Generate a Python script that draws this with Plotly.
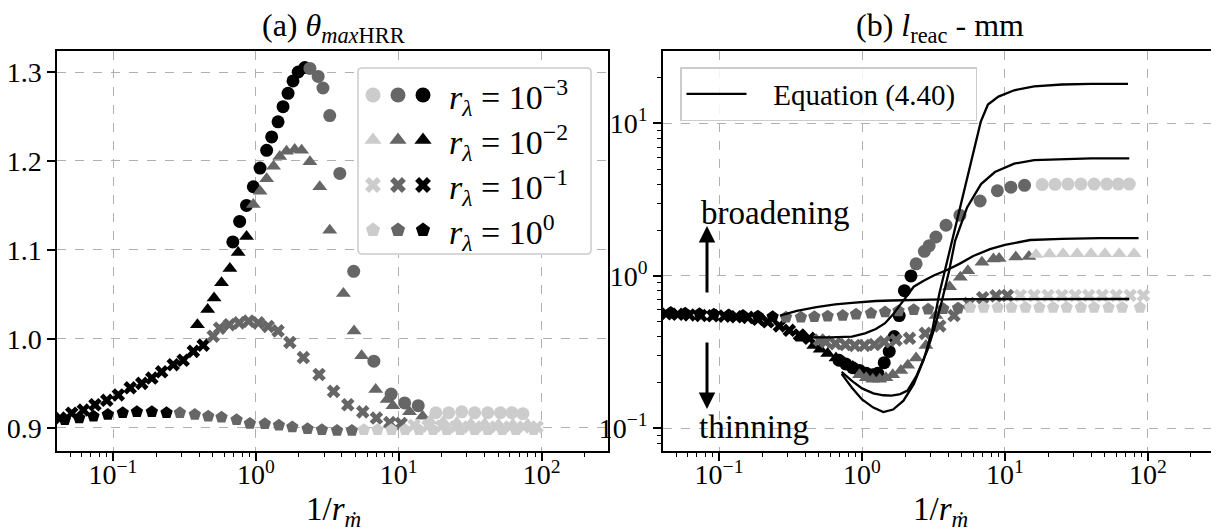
import plotly.graph_objects as go

LIGHT = "#cccccc"
DARK = "#666666"
BLACK = "#000000"
FONT = "Liberation Serif, DejaVu Serif, serif"

# ---------------- data ----------------
# x = 1/r_mdot ; th = theta_maxHRR (panel a) ; lr = l_reac in mm (panel b)

# r_lambda = 1e-3 (circles)
circ_black_x = [0.69, 0.77, 0.86, 0.96, 1.07, 1.19, 1.29, 1.43, 1.55, 1.68, 1.82, 1.98, 2.2]
circ_black_th = [1.109, 1.132, 1.150, 1.171, 1.192, 1.212, 1.227, 1.244, 1.261, 1.276, 1.290, 1.300, 1.305]
circ_black_lr = [0.28, 0.265, 0.25, 0.24, 0.23, 0.225, 0.23, 0.27, 0.32, 0.40, 0.55, 0.80, 1.0]
circ_dark_x = [2.39, 2.73, 2.95, 3.29, 3.87, 4.84, 6.7, 8.85, 11.0, 13.7]
circ_dark_th = [1.304, 1.295, 1.282, 1.251, 1.186, 1.076, 0.975, 0.938, 0.928, 0.925]
circ_dark_lr = [1.2, 1.45, 1.58, 1.8, 2.15, 2.5, 3.1, 3.62, 3.82, 3.93]
circ_light_x = [18.2, 22.4, 27.6, 34.0, 42.0, 51.5, 62.0, 74.0]
circ_light_th = [0.917, 0.917, 0.918, 0.917, 0.917, 0.917, 0.917, 0.916]
circ_light_lr = [3.97, 3.99, 4.0, 4.0, 4.0, 4.0, 4.0, 4.0]

# r_lambda = 1e-2 (triangles)
tri_black_x = [0.39, 0.46, 0.51, 0.575, 0.658, 0.752, 0.861]
tri_black_th = [1.016, 1.033, 1.046, 1.063, 1.079, 1.097, 1.115]
tri_black_lr = [0.39, 0.35, 0.33, 0.31, 0.29, 0.27, 0.255]
tri_dark_x = [0.96, 1.07, 1.19, 1.33, 1.47, 1.64, 1.87, 2.09, 2.39, 2.80, 3.29, 4.1, 4.87, 5.5, 6.9, 8.3, 9.1, 11.9, 14.7]
tri_dark_th = [1.151, 1.166, 1.180, 1.194, 1.205, 1.211, 1.213, 1.212, 1.199, 1.171, 1.122, 1.051, 1.009,
               0.981, 0.943, 0.932, 0.925, 0.918, 0.913]
tri_dark_lr = [0.225, 0.215, 0.21, 0.21, 0.215, 0.225, 0.24, 0.26, 0.29, 0.35, 0.55, 0.85, 0.98,
               1.08, 1.23, 1.29, 1.30, 1.33, 1.34]
tri_light_x = [16.5, 20.5, 25.5, 32.0, 40.0, 50.0, 63.0, 80.0]
tri_light_th = [0.908, 0.907, 0.906, 0.905, 0.905, 0.904, 0.904, 0.904]
tri_light_lr = [1.38, 1.39, 1.40, 1.40, 1.40, 1.40, 1.40, 1.40]

# r_lambda = 1e-1 (crosses)
crs_black_x = [0.0426, 0.0514, 0.062, 0.0748, 0.0904, 0.109, 0.132, 0.159, 0.187, 0.219, 0.264, 0.31, 0.365, 0.428]
crs_black_th = [0.911, 0.9165, 0.920, 0.926, 0.931, 0.937, 0.945, 0.950, 0.956, 0.963, 0.971, 0.976, 0.986, 0.993]
crs_black_lr = [0.565, 0.56, 0.555, 0.55, 0.548, 0.545, 0.54, 0.535, 0.52, 0.50, 0.47, 0.44, 0.41, 0.39]
crs_dark_x = [0.503, 0.557, 0.652, 0.764, 0.89, 1.04, 1.22, 1.43, 1.73, 2.15, 2.77, 3.5, 4.4, 5.6, 6.98, 8.65, 10.4]
crs_dark_th = [1.003, 1.012, 1.016, 1.018, 1.020, 1.018, 1.014, 1.009, 0.996, 0.979, 0.960, 0.941, 0.926,
               0.918, 0.911, 0.906, 0.905]
crs_dark_lr = [0.38, 0.37, 0.36, 0.355, 0.35, 0.35, 0.355, 0.37, 0.38, 0.39, 0.42, 0.47, 0.55,
               0.66, 0.72, 0.74, 0.745]
crs_light_x = [12.8, 16.0, 20.0, 25.0, 31.0, 38.5, 48.0, 60.0, 75.0, 93.0]
crs_light_th = [0.903, 0.902, 0.902, 0.901, 0.901, 0.901, 0.901, 0.901, 0.901, 0.901]
crs_light_lr = [0.745, 0.745, 0.745, 0.745, 0.745, 0.745, 0.745, 0.745, 0.745, 0.745]

# r_lambda = 1 (pentagons)
pen_black_x = [0.046, 0.058, 0.073, 0.092, 0.117, 0.147, 0.187, 0.237]
pen_black_th = [0.909, 0.911, 0.913, 0.915, 0.917, 0.918, 0.918, 0.917]
pen_black_lr = [0.575, 0.57, 0.565, 0.56, 0.555, 0.55, 0.545, 0.54]
pen_dark_x = [0.294, 0.374, 0.464, 0.575, 0.733, 0.908, 1.156, 1.45, 1.8, 2.3, 2.9, 3.7, 4.7]
pen_dark_th = [0.917, 0.915, 0.913, 0.912, 0.909, 0.905, 0.9045, 0.903, 0.901, 0.899, 0.898, 0.897, 0.897]
pen_dark_lr = [0.535, 0.535, 0.54, 0.545, 0.55, 0.56, 0.57, 0.58, 0.59, 0.60, 0.605, 0.61, 0.615]
pen_light_x = [5.7, 7.1, 8.9, 11.1, 13.9, 17.4, 21.7, 27.0, 34.0, 42.0, 53.0, 66.0, 88.0]
pen_light_th = [0.898, 0.898, 0.898, 0.898, 0.898, 0.898, 0.898, 0.898, 0.898, 0.898, 0.898, 0.898, 0.898]
pen_light_lr = [0.62, 0.62, 0.62, 0.62, 0.62, 0.62, 0.62, 0.62, 0.62, 0.62, 0.62, 0.62, 0.62]

# Equation (4.40) curves, panel b
eq1_x = [0.72, 0.85, 1.0, 1.2, 1.41, 1.65, 1.95, 2.3, 2.69, 3.1, 3.47, 3.94, 4.5, 5.42, 6.1, 6.78, 7.6, 9.0,
         11.6, 16.0, 25.0, 40.0, 72.5]
eq1_lr = [0.228, 0.185, 0.155, 0.137, 0.128, 0.133, 0.152, 0.195, 0.279, 0.44, 0.762, 1.26, 2.1, 4.43, 7.0,
          10.3, 13.3, 15.0, 16.5, 17.5, 18.0, 18.2, 18.2]
eq2_x = [0.72, 0.85, 1.0, 1.2, 1.41, 1.61, 1.85, 2.08, 2.4, 2.86, 3.2, 3.58, 4.07, 4.48, 5.42, 6.8, 8.5,
         11.6, 16.0, 25.0, 40.0, 74.0]
eq2_lr = [0.235, 0.205, 0.183, 0.17, 0.165, 0.164, 0.168, 0.177, 0.22, 0.324, 0.45, 0.658, 1.08, 1.7, 2.8,
          4.0, 4.8, 5.45, 5.75, 5.85, 5.9, 5.9]
eq3_x = [0.45, 0.6, 0.85, 1.05, 1.25, 1.45, 1.65, 1.84, 2.08, 2.3, 2.7, 3.2, 3.9, 4.8, 6.0, 7.85, 10.0,
         15.0, 25.0, 46.0, 86.0]
eq3_lr = [0.395, 0.395, 0.40, 0.42, 0.449, 0.49, 0.56, 0.64, 0.75, 0.85, 0.93, 1.01, 1.09, 1.2, 1.35, 1.5,
          1.6, 1.72, 1.75, 1.77, 1.77]
eq4_x = [0.267, 0.35, 0.48, 0.65, 0.85, 1.02, 1.25, 1.6, 2.0, 3.0, 5.0, 8.5, 15.0, 30.0, 74.0]
eq4_lr = [0.55, 0.59, 0.625, 0.65, 0.665, 0.675, 0.685, 0.69, 0.695, 0.70, 0.705, 0.706, 0.706, 0.706, 0.706]

legend_labels = ["10<sup>−3</sup>", "10<sup>−2</sup>", "10<sup>−1</sup>", "10<sup>0</sup>"]

# ---------------- layout helpers ----------------
# the page body keeps its default 8px margin, so the figure is made 8px smaller and
# pixel positions measured on the 1219x532 target are shifted by that amount
OFF = 8
W, H = 1219 - OFF, 532 - OFF


def fx(p):
    return (p - OFF) / W


def fy(p):
    return 1 - (p - OFF) / H


# ---------------- figure ----------------
series = [
    ("circle", 13, {"black": (circ_black_x, circ_black_th, circ_black_lr),
                    "dark": (circ_dark_x, circ_dark_th, circ_dark_lr),
                    "light": (circ_light_x, circ_light_th, circ_light_lr)}),
    ("triangle-up", 13, {"black": (tri_black_x, tri_black_th, tri_black_lr),
                         "dark": (tri_dark_x, tri_dark_th, tri_dark_lr),
                         "light": (tri_light_x, tri_light_th, tri_light_lr)}),
    ("x", 12, {"black": (crs_black_x, crs_black_th, crs_black_lr),
               "dark": (crs_dark_x, crs_dark_th, crs_dark_lr),
               "light": (crs_light_x, crs_light_th, crs_light_lr)}),
    ("pentagon", 13, {"black": (pen_black_x, pen_black_th, pen_black_lr),
                      "dark": (pen_dark_x, pen_dark_th, pen_dark_lr),
                      "light": (pen_light_x, pen_light_th, pen_light_lr)}),
]
shades = [("black", BLACK), ("dark", DARK), ("light", LIGHT)]

fig = go.Figure()

for shade, color in shades:
    for sym, size, data in series:
        x, th, lr = data[shade]
        mk = dict(symbol=sym, size=size, color=color, line=dict(width=0))
        fig.add_trace(go.Scatter(x=x, y=th, mode="markers", marker=mk, xaxis="x", yaxis="y",
                                 showlegend=False, hoverinfo="skip"))
        fig.add_trace(go.Scatter(x=x, y=lr, mode="markers", marker=mk, xaxis="x2", yaxis="y2",
                                 showlegend=False, hoverinfo="skip"))

for i, (x, y) in enumerate([(eq1_x, eq1_lr), (eq2_x, eq2_lr), (eq3_x, eq3_lr), (eq4_x, eq4_lr)]):
    fig.add_trace(go.Scatter(x=x, y=y, mode="lines", line=dict(color="black", width=2.3),
                             name="\u00a0\u00a0\u00a0Equation (4.40)\u00a0\u00a0", showlegend=(i == 0),
                             xaxis="x2", yaxis="y2", hoverinfo="skip"))

# custom legend of panel (a): three shades per r_lambda, drawn on a hidden overlay axis
col_px = [16, 41, 66]
row_px = [28, 73, 118, 163]
for j, (sym, size, _) in enumerate(series):
    fig.add_trace(go.Scatter(x=col_px, y=[row_px[j]] * 3, mode="markers", xaxis="x3", yaxis="y3",
                             marker=dict(symbol=sym, size=size + 2, color=[LIGHT, DARK, BLACK], line=dict(width=0)),
                             showlegend=False, hoverinfo="skip"))
    fig.add_annotation(x=90, y=row_px[j] + 2, xref="x3", yref="y3", xanchor="left", yanchor="middle",
                       text="<i>r</i><sub><i>λ</i></sub> = " + legend_labels[j], showarrow=False,
                       font=dict(size=34))

fig.add_shape(type="path", xref="x3", yref="y3", layer="below",
              path="M5,1 H230 Q234,1 234,5 V183 Q234,187 230,187 H5 Q1,187 1,183 V5 Q1,1 5,1 Z",
              fillcolor="rgba(255,255,255,0.85)", line=dict(color="#cccccc", width=1.5))

common = dict(showline=True, linecolor="black", linewidth=1.5, mirror=True, ticks="outside", ticklen=8,
              tickwidth=1.5, tickcolor="black", showgrid=True, gridcolor="#b0b0b0", griddash="dash",
              gridwidth=1, zeroline=False, automargin=False,
              tickfont=dict(size=28, family=FONT, color="black"))
minor_log = [m * 10.0 ** e for e in range(-2, 3) for m in range(2, 10)]
minor_cfg = dict(ticks="outside", ticklen=4, tickwidth=1, tickcolor="black", tickmode="array",
                 tickvals=minor_log, showgrid=False)
xticks = dict(tickmode="array", tickvals=[0.1, 1, 10, 100],
              ticktext=["10<sup>−1</sup>", "10<sup>0</sup>", "10<sup>1</sup>", "10<sup>2</sup>"],
              ticklabelstandoff=-10)

fig.update_layout(
    width=W, height=H, margin=dict(l=0, r=0, t=0, b=0, autoexpand=False),
    paper_bgcolor="white", plot_bgcolor="white",
    font=dict(family=FONT, size=28, color="black"),
    xaxis=dict(common, type="log", domain=[fx(57), fx(608)], range=[-1.392, 2.465], anchor="y",
               minor=minor_cfg, **xticks),
    yaxis=dict(common, domain=[fy(451), fy(51)], range=[0.874, 1.3236], anchor="x",
               tickmode="array", tickvals=[0.9, 1.0, 1.1, 1.2, 1.3],
               ticktext=["0.9", "1.0", "1.1", "1.2", "1.3"]),
    xaxis2=dict(common, type="log", domain=[fx(663), fx(1217)], range=[-1.392, 2.483], anchor="y2",
                minor=minor_cfg, **xticks),
    yaxis2=dict(common, type="log", domain=[fy(451), fy(51)], range=[-1.148, 1.475], anchor="x2",
                tickmode="array", tickvals=[0.1, 1, 10],
                ticktext=["10<sup>−1</sup>", "10<sup>0</sup>", "10<sup>1</sup>"], minor=minor_cfg),
    xaxis3=dict(domain=[fx(357), fx(592)], range=[0, 235], visible=False, anchor="y3",
                fixedrange=True, automargin=False),
    yaxis3=dict(domain=[fy(255), fy(67)], range=[188, 0], visible=False, anchor="x3",
                fixedrange=True, automargin=False),
    showlegend=True,
    legend=dict(x=fx(680), y=fy(67), xanchor="left", yanchor="top", bgcolor="rgba(255,255,255,0.85)",
                bordercolor="#cccccc", borderwidth=1.5, font=dict(size=29, family=FONT), itemwidth=60),
)

# panel titles, axis titles and text
ann_font = dict(family=FONT, size=33, color="black")
center = dict(xref="paper", yref="paper", showarrow=False, xanchor="center", yanchor="middle", font=ann_font)
fig.add_annotation(center, x=fx(333), y=fy(28), text="(a) <i>θ</i><sub><i>max</i>HRR</sub>",
                   font=dict(size=32))
fig.add_annotation(center, x=fx(940), y=fy(28), text="(b) <i>l</i><sub>reac</sub> - mm", font=dict(size=32))
for cx in [fx(333), fx(940)]:
    fig.add_annotation(center, x=cx, y=fy(511), text="1/<i>r</i><sub><i>ṁ</i></sub>")
fig.add_annotation(center, x=fx(699), y=fy(213), xanchor="left", text="broadening")
fig.add_annotation(center, x=fx(697), y=fy(427), xanchor="left", text="thinning")
arrow = dict(xref="paper", yref="paper", text="", showarrow=True, arrowhead=2, arrowsize=1.1,
             arrowwidth=3, arrowcolor="black", ax=0)
fig.add_annotation(arrow, x=fx(707), y=fy(226), ay=68)
fig.add_annotation(arrow, x=fx(707), y=fy(409), ay=-68)

fig.write_html("out.html")
